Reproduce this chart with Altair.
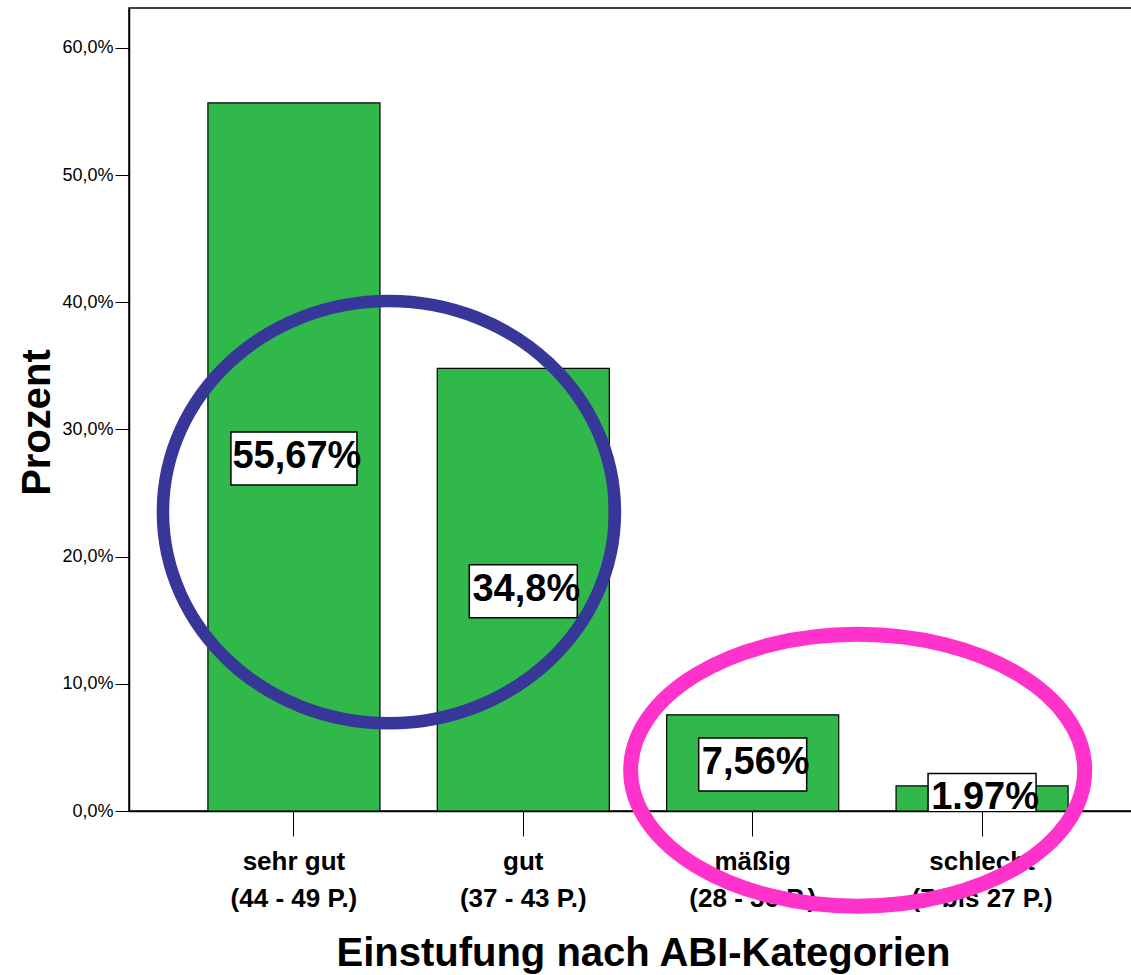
import altair as alt
import pandas as pd

# Distribution of final grades by ABI category
categories = ["sehr gut", "gut", "mäßig", "schlecht"]
point_ranges = ["(44 - 49 P.)", "(37 - 43 P.)", "(28 - 36 P.)", "(7 bis 27 P.)"]
percent = [55.67, 34.8, 7.56, 1.97]
value_labels = ["55,67%", "34,8%", "7,56%", "1.97%"]
y_ticks = [0, 10, 20, 30, 40, 50, 60]

# Highlighted groups: anchor category and vertical centre in percent
highlight_anchor = ["sehr gut", "mäßig"]
highlight_center = [23.5, 3.2]

full_names = [f"{c}|{r}" for c, r in zip(categories, point_ranges)]
name_of = dict(zip(categories, full_names))

bars_df = pd.DataFrame({
    "kategorie": full_names,
    "prozent": percent,
    "beschriftung": value_labels,
})
hl_df = pd.DataFrame({
    "kategorie": [name_of[a] for a in highlight_anchor],
    "prozent": highlight_center,
})

FONT = "Liberation Sans, Arial, sans-serif"

x_enc = alt.X(
    "kategorie:N",
    sort=None,
    scale=alt.Scale(domain=full_names, paddingInner=0.25, paddingOuter=0.344),
    axis=alt.Axis(
        title="Einstufung nach ABI-Kategorien",
        labelExpr="split(datum.label, '|')",
        labelAngle=0,
        labelFont=FONT,
        labelFontSize=26,
        labelFontWeight="bold",
        labelLineHeight=37,
        labelPadding=12,
        labelBaseline="top",
        tickSize=25,
        titleFont=FONT,
        titleFontSize=40,
        titleFontWeight="bold",
        titleX=514,
        titleY=154,
        titleAlign="center",
        titleBaseline="alphabetic",
    ),
)
y_scale = alt.Scale(domain=[0, 63.13], nice=False, zero=True)
y_enc = alt.Y(
    "prozent:Q",
    scale=y_scale,
    axis=alt.Axis(
        title="Prozent",
        values=y_ticks,
        labelExpr="replace(format(datum.value, '.1f'), '.', ',') + '%'",
        labelFont=FONT,
        labelFontSize=18,
        labelPadding=2,
        tickSize=14,
        grid=False,
        titleFont=FONT,
        titleFontSize=40,
        titleFontWeight="bold",
        titleAngle=270,
        titleX=-80,
        titleY=414,
        titleAlign="center",
        titleBaseline="alphabetic",
    ),
)

bars = alt.Chart(bars_df).mark_bar(
    color="#30b84a", stroke="black", strokeWidth=1.2
).encode(x=x_enc, y=y_enc)

label_base = alt.Chart(bars_df).transform_calculate(
    mitte="datum.prozent / 2",
    w="(18 * length(datum.beschriftung) + 18) / 100",
).transform_calculate(
    kasten="'M -' + datum.w + ' -0.53 H ' + datum.w + ' V 0.53 H -' + datum.w + ' Z'"
)

boxes = label_base.mark_point(
    filled=True, fill="white", stroke="black", strokeWidth=1.5,
    size=10000, opacity=1, clip=True, yOffset=1.5,
).encode(
    x=alt.X("kategorie:N", sort=None),
    y=alt.Y("mitte:Q"),
    shape=alt.Shape("kasten:N", scale=None, legend=None),
)

texts = label_base.mark_text(
    font=FONT, fontSize=38, fontWeight="bold", color="black",
    align="center", baseline="middle", dx=3,
).encode(
    x=alt.X("kategorie:N", sort=None),
    y=alt.Y("mitte:Q"),
    text="beschriftung:N",
)


def ellipse_path(ratio):
    return f"M -1 0 A 1 {ratio} 0 1 1 1 0 A 1 {ratio} 0 1 1 -1 0 Z"


hl = alt.Chart(hl_df)
blue_ring = hl.transform_filter(alt.datum.kategorie == name_of["sehr gut"]).mark_point(
    shape=ellipse_path(0.934), size=204304, filled=False,
    stroke="#37379a", strokeWidth=12.5, opacity=1, xOffset=95,
).encode(x=alt.X("kategorie:N", sort=None), y=alt.Y("prozent:Q"))

pink_ring = hl.transform_filter(alt.datum.kategorie == name_of["mäßig"]).mark_point(
    shape=ellipse_path(0.599), size=206116, filled=False,
    stroke="#ff33cc", strokeWidth=15, opacity=1, xOffset=105,
).encode(x=alt.X("kategorie:N", sort=None), y=alt.Y("prozent:Q"))

# The plot frame runs past the right edge of the page, so its right side is cut off
chart = alt.layer(bars, boxes, texts, blue_ring, pink_ring).properties(
    width=1018,
    height=803,
    autosize=alt.AutoSizeParams(type="none"),
    padding={"left": 129, "top": 8, "right": -16, "bottom": 164},
    background="white",
).configure_view(
    stroke="black", strokeWidth=1.5
).configure_axis(
    domainColor="black", domainWidth=1.5, tickColor="black", tickWidth=1,
    labelColor="black", titleColor="black",
)

chart.save("out.html", embed_options={"renderer": "svg", "actions": False})
